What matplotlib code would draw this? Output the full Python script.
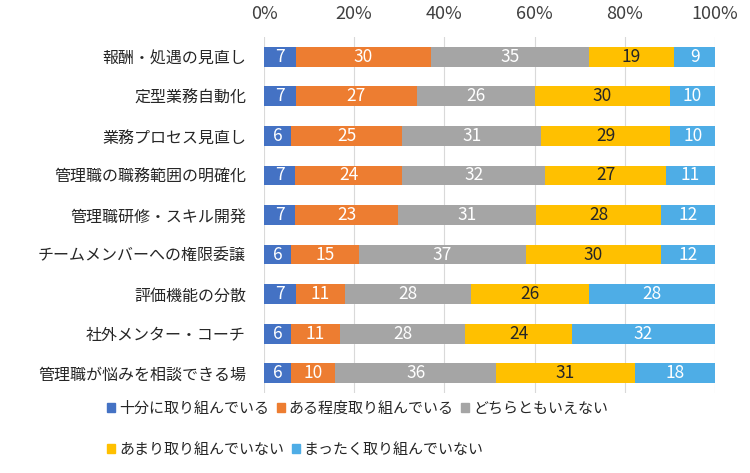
import numpy as np
import matplotlib
matplotlib.use('Agg')
import matplotlib.pyplot as plt
from matplotlib.patches import Patch

plt.rcParams['font.family'] = ['Noto Sans CJK JP', 'DejaVu Sans']

categories = ['報酬・処遇の見直し', '定型業務自動化', '業務プロセス見直し',
              '管理職の職務範囲の明確化', '管理職研修・スキル開発',
              'チームメンバーへの権限委譲', '評価機能の分散',
              '社外メンター・コーチ', '管理職が悩みを相談できる場']
series = ['十分に取り組んでいる', 'ある程度取り組んでいる', 'どちらともいえない',
          'あまり取り組んでいない', 'まったく取り組んでいない']
fully = [7, 7, 6, 7, 7, 6, 7, 6, 6]
somewhat = [30, 27, 25, 24, 23, 15, 11, 11, 10]
neutral = [35, 26, 31, 32, 31, 37, 28, 28, 36]
not_much = [19, 30, 29, 27, 28, 30, 26, 24, 31]
not_at_all = [9, 10, 10, 11, 12, 12, 28, 32, 18]

colors = ['#4472C4', '#ED7D31', '#A5A5A5', '#FFC000', '#4EADE6']
txt_colors = ['white', 'white', 'white', '#262626', 'white']

vals = np.array([fully, somewhat, neutral, not_much, not_at_all], dtype=float)
shares = vals / vals.sum(axis=0) * 100  # 100% stacked

fig = plt.figure(figsize=(7.5, 4.73), dpi=100)
ax = fig.add_axes([264/750, 1-393/473, (715-264)/750, (393-37)/473])

y = np.arange(len(categories))
left = np.zeros(len(categories))
for i in range(len(series)):
    ax.barh(y, shares[i], left=left, height=0.5, color=colors[i], label=series[i], zorder=2)
    for j in range(len(categories)):
        ax.text(left[j] + shares[i][j]/2, y[j], '%d' % vals[i][j], ha='center', va='center',
                color=txt_colors[i], fontsize=12.5, zorder=3)
    left += shares[i]

ax.set_xlim(0, 100)
ax.set_ylim(len(categories)-0.5, -0.5)
ax.set_xticks(np.arange(0, 101, 20))
ax.set_xticklabels(['%d%%' % t for t in range(0, 101, 20)])
ax.xaxis.tick_top()
ax.tick_params(axis='x', length=0, pad=10, labelsize=13, labelcolor='#404040')
ax.set_yticks(y)
ax.set_yticklabels(categories)
ax.tick_params(axis='y', length=0, pad=13, labelsize=11.5, labelcolor='#262626')
ax.grid(axis='x', color='#D9D9D9', linewidth=0.8, zorder=0)
for s in ax.spines.values():
    s.set_visible(False)

handles = [Patch(color=c) for c in colors]
leg_kw = dict(loc='center left', frameon=False, fontsize=10.8, handlelength=0.55, handleheight=0.55,
              handletextpad=0.25, columnspacing=0.5, borderpad=0, borderaxespad=0)
l1 = fig.legend(handles[:3], series[:3], ncol=3, bbox_to_anchor=(107/750, 1-409/473), **leg_kw)
l2 = fig.legend(handles[3:], series[3:], ncol=2, bbox_to_anchor=(107/750, 1-450/473), **leg_kw)
for l in (l1, l2):
    for t in l.get_texts():
        t.set_color('#262626')

fig.savefig('out.png', dpi=100)
